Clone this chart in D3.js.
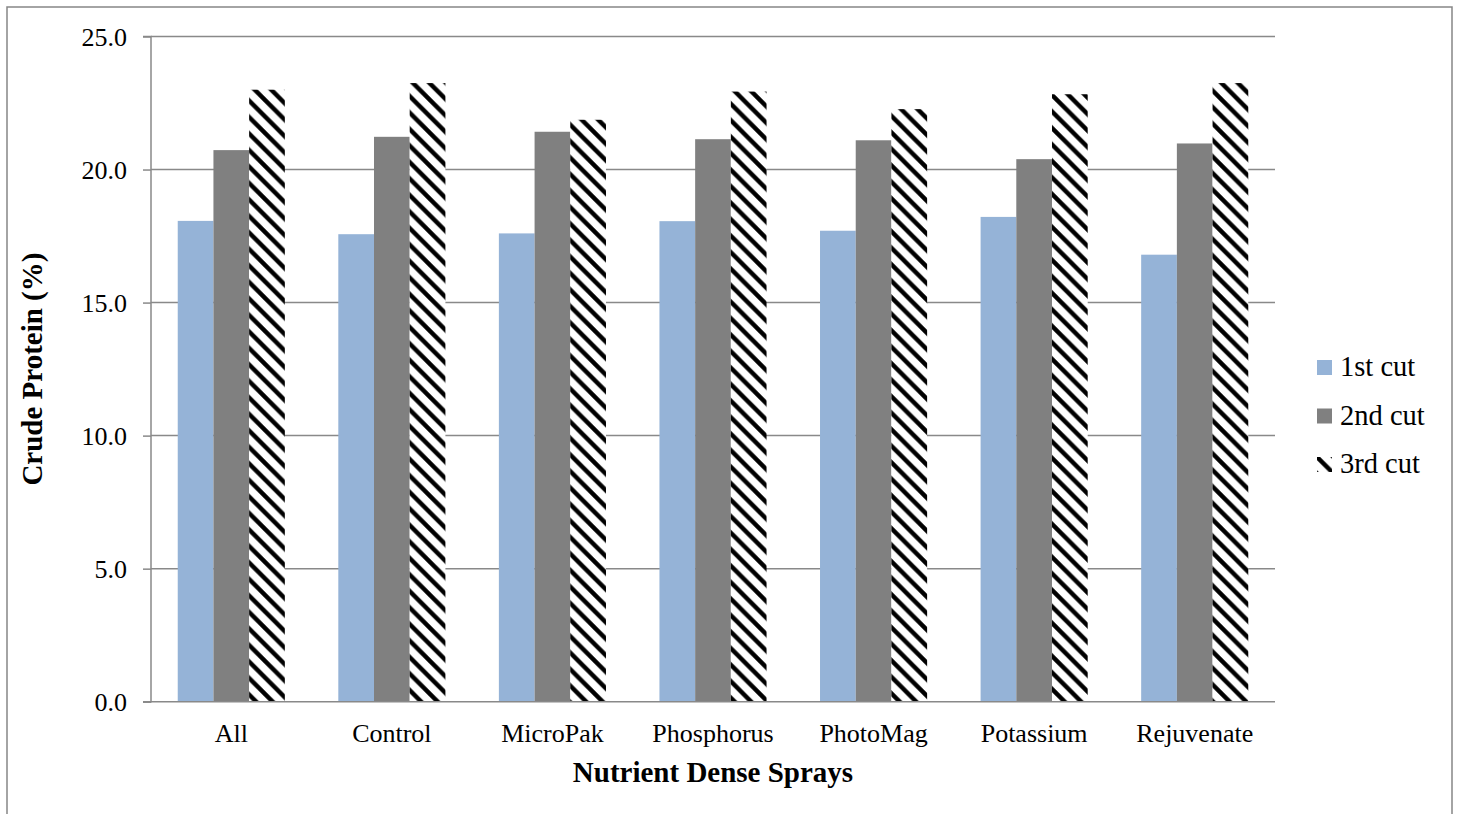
<!DOCTYPE html>
<html><head><meta charset="utf-8">
<script src="https://cdn.jsdelivr.net/npm/d3@7"></script>
<style>body{margin:0;background:#fff}svg{display:block}text{font-family:"Liberation Serif","Times New Roman",serif;fill:#000}</style>
</head><body>
<svg id="c" width="1460" height="814" font-family="Liberation Serif"></svg>
<script>
const categories = ["All","Control","MicroPak","Phosphorus","PhotoMag","Potassium","Rejuvenate"];
const seriesNames = ["1st cut","2nd cut","3rd cut"];
const cut1 = [18.07, 17.57, 17.6, 18.06, 17.7, 18.22, 16.8];
const cut2 = [20.73, 21.23, 21.42, 21.14, 21.1, 20.39, 20.98];
const cut3 = [23.0, 23.25, 21.87, 22.93, 22.27, 22.83, 23.25];
const yTicks = [0, 5, 10, 15, 20, 25];
const seriesValues = [cut1, cut2, cut3];

const FONT = "'Liberation Serif', 'Times New Roman', serif";
const svg = d3.select("#c");
const gray = "#898989";
const defs = svg.append("defs");
const P = 16.5;
const pat = defs.append("pattern").attr("id","hatch").attr("patternUnits","userSpaceOnUse")
  .attr("width",P).attr("height",P);
pat.append("rect").attr("width",P).attr("height",P).attr("fill","#fff");
pat.append("path").attr("d",`M-4,-4L${P+4},${P+4}M${-P-4},-4L4,${P+4}M${P-4},-4L${2*P+4},${P+4}`)
  .attr("stroke","#000").attr("stroke-width",4.4);

const fills = ["#95B3D7","#808080","url(#hatch)"];

// outer border
svg.append("rect").attr("x",7).attr("y",7).attr("width",1445).attr("height",830)
  .attr("fill","none").attr("stroke","#868686").attr("stroke-width",1.5);

const L = 151, R = 1275, T = 36.5, B = 701.7;
const x = d3.scaleBand().domain(categories).range([L,R]).paddingInner(0.333).paddingOuter(0.1665);
const xs = d3.scaleBand().domain(seriesNames).range([0,x.bandwidth()]);
const y = d3.scaleLinear().domain([0,25]).range([B,T]);

// gridlines
svg.append("g").selectAll("line").data(yTicks.filter(d=>d>0)).join("line")
  .attr("x1",L).attr("x2",R).attr("y1",d=>y(d)).attr("y2",d=>y(d))
  .attr("stroke",gray).attr("stroke-width",1.5);

// bars
const groups = svg.append("g").selectAll("g").data(seriesValues).join("g")
  .attr("fill",(d,i)=>fills[i]);
groups.each(function(vals,si){
  d3.select(this).selectAll("rect").data(vals).join("rect")
    .attr("x",(d,i)=>x(categories[i])+xs(seriesNames[si]))
    .attr("width",xs.bandwidth())
    .attr("y",d=>y(d)).attr("height",d=>B-y(d));
});

// y axis
const yAxis = d3.axisLeft(y).tickValues(yTicks).tickFormat(d3.format(".1f")).tickSize(8).tickPadding(16);
const ga = svg.append("g").attr("transform",`translate(${L},0)`).call(yAxis).attr("font-family",FONT);
ga.select(".domain").attr("stroke",gray).attr("stroke-width",1.5).attr("d",`M-8,${T}H0V${B}H-8`);
ga.selectAll(".tick line").attr("stroke",gray).attr("stroke-width",1.5);
ga.selectAll(".tick text").attr("font-size",26).attr("font-family",FONT).attr("fill","#000").attr("dy","0.34em");

// x axis
const xAxis = d3.axisBottom(x).tickSize(0).tickPadding(30);
const gx = svg.append("g").attr("transform",`translate(0,${B})`).call(xAxis).attr("font-family",FONT);
gx.select(".domain").attr("stroke",gray).attr("stroke-width",1.5).attr("d",`M${L-8},0H${R}`);
gx.selectAll(".tick text").attr("font-size",26).attr("font-family",FONT).attr("fill","#000").attr("dy","0.38em");

// titles
svg.append("text").attr("x",(L+R)/2).attr("y",782).attr("text-anchor","middle").attr("font-family",FONT)
  .attr("font-weight","bold").attr("font-size",29).text("Nutrient Dense Sprays");
svg.append("text").attr("transform",`translate(42,${(T+B)/2}) rotate(-90)`).attr("text-anchor","middle").attr("font-family",FONT)
  .attr("font-weight","bold").attr("font-size",29).text("Crude Protein (%)");

// legend
const lg = svg.append("g").selectAll("g").data(seriesNames).join("g")
  .attr("transform",(d,i)=>`translate(1317,${360+i*48.5})`);
lg.append("rect").attr("width",15).attr("height",15).attr("fill",(d,i)=>fills[i]);
lg.append("text").attr("x",23).attr("y",16).attr("font-size",28.5).attr("font-family",FONT).text(d=>d);
</script>
</body></html>
